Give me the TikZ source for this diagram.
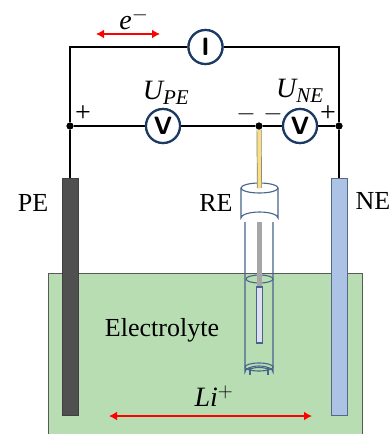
\documentclass[tikz,border=0pt]{standalone}
\usepackage{fontspec}
\setmainfont{Liberation Serif}
\usetikzlibrary{arrows.meta}
\definecolor{ringblue}{RGB}{28,58,100}
\definecolor{tubeblue}{RGB}{70,100,140}
\definecolor{greenfill}{RGB}{185,221,178}
\definecolor{nefill}{RGB}{172,195,230}
\definecolor{nedraw}{RGB}{85,105,135}
\definecolor{pefill}{RGB}{80,80,80}
\definecolor{rodyellow}{RGB}{250,222,130}
\definecolor{innerrod}{RGB}{222,224,240}
\tikzset{
  wire/.style={draw=black,line width=2.2pt},
  meter/.style={circle,draw=ringblue,line width=2.2pt,fill=white,minimum size=34pt,inner sep=0pt,font=\fontsize{25}{26}\selectfont\sffamily\bfseries},
  junction/.style={circle,fill=black,minimum size=7pt,inner sep=0pt},
  label/.style={inner sep=0pt,font=\fontsize{26}{28}\selectfont},
  mathlabel/.style={inner sep=0pt,font=\fontsize{28}{30}\selectfont\itshape},
  plussign/.style={inner sep=0pt,font=\fontsize{28}{30}\selectfont},
  minussign/.style={inner sep=0pt,font=\fontsize{24}{26}\selectfont},
  flow/.style={draw=red,line width=2.4pt,{Latex[length=8pt,width=9pt]}-{Latex[length=8pt,width=9pt]}},
  tube/.style={draw=tubeblue,line width=1.1pt},
}
\begin{document}
\begin{tikzpicture}[x=1pt,y=-1pt]
\path[use as bounding box,clip] (0,0) rectangle (391,434);
\fill[white] (0,0) rectangle (391,434);
% electrolyte
\draw[fill=greenfill,draw=black!65,line width=0.8pt] (48,273) rectangle (362,436);
% electrodes
\draw[fill=pefill,draw=black!75,line width=0.8pt] (62,178) rectangle (78,415);
\draw[fill=nefill,draw=nedraw,line width=0.8pt] (331,178) rectangle (347,415);
% reference electrode glass
\draw[tube] (245,222) -- (245,372) arc[start angle=180,end angle=360,x radius=14,y radius=6] -- (273,222);
\draw[tube] (246,279) arc[start angle=180,end angle=-180,x radius=13.5,y radius=4];
\draw[tube] (245,367) arc[start angle=180,end angle=-180,x radius=14,y radius=4];
\draw[tube] (250,368) -- (250,375);
\draw[tube] (268,368) -- (268,375);
\draw[tube] (250,370) arc[start angle=180,end angle=360,x radius=9,y radius=2.5];
\draw[fill=black!35,draw=none] (257,222) rectangle (262,287);
\draw[fill=innerrod,draw=tubeblue,line width=1.1pt] (256.5,287) rectangle (262.5,343);
% cap
\draw[draw=tubeblue,line width=1.1pt,fill=white] (241,188) -- (241,218) arc[start angle=180,end angle=360,x radius=18.5,y radius=6] -- (278,188);
\draw[draw=tubeblue,line width=1.1pt,fill=white] (259.5,188) ellipse[x radius=18.5,y radius=5];
% nodes
\node[junction] (jl) at (70,126) {};
\node[junction] (jm) at (259,126) {};
\node[junction] (jr) at (339,126) {};
\node[meter] (mi) at (205.5,47) {I};
\node[meter] (mp) at (163,126) {V};
\node[meter] (mn) at (300,126) {V};
\coordinate (pet) at (70,178);
\coordinate (net) at (339,178);
\coordinate (tl) at (70,47);
\coordinate (tr) at (339,47);
\coordinate (rodend) at (259.5,188);
% yellow rod
\draw[draw=black!50,line width=5pt] (jm) -- (rodend);
\draw[draw=rodyellow,line width=3.6pt] (jm) -- (rodend);
% wires
\draw[wire] (pet) -- (jl) -- (tl) -- (mi) -- (tr) -- (jr) -- (net);
\draw[wire] (jl) -- (mp) -- (jm) -- (mn) -- (jr);
\node[junction] at (jl) {};
\node[junction] at (jm) {};
\node[junction] at (jr) {};
\node[meter] at (mi) {I};
\node[meter] at (mp) {V};
\node[meter] at (mn) {V};
% arrows
\coordinate (ea) at (96,34); \coordinate (eb) at (160,34);
\coordinate (la) at (109,416); \coordinate (lb) at (312,416);
\draw[flow] (ea) -- (eb);
\draw[flow] (la) -- (lb);
% labels
\node[label] (pe) at (33,203) {PE};
\node[label] (re) at (216,203) {RE};
\node[label,anchor=west] (ne) at (355.5,201) {NE};
\node[label] (el) at (162,330) {Electrolyte};
\node[mathlabel] (li) at (214,396) {Li$^{\mathrm{+}}$};
\node[mathlabel] (em) at (134,19) {e$^{-}$};
\node[mathlabel] (up) at (166,93) {U\textsubscript{\fontsize{21}{22}\selectfont PE}};
\node[mathlabel] (un) at (300,91) {U\textsubscript{\fontsize{21}{22}\selectfont NE}};
\node[plussign] (s1) at (83,114) {+};
\node[minussign] (s2) at (246,114) {$-$};
\node[minussign] (s3) at (273,114) {$-$};
\node[plussign] (s4) at (328,114) {+};
\end{tikzpicture}
\end{document}
